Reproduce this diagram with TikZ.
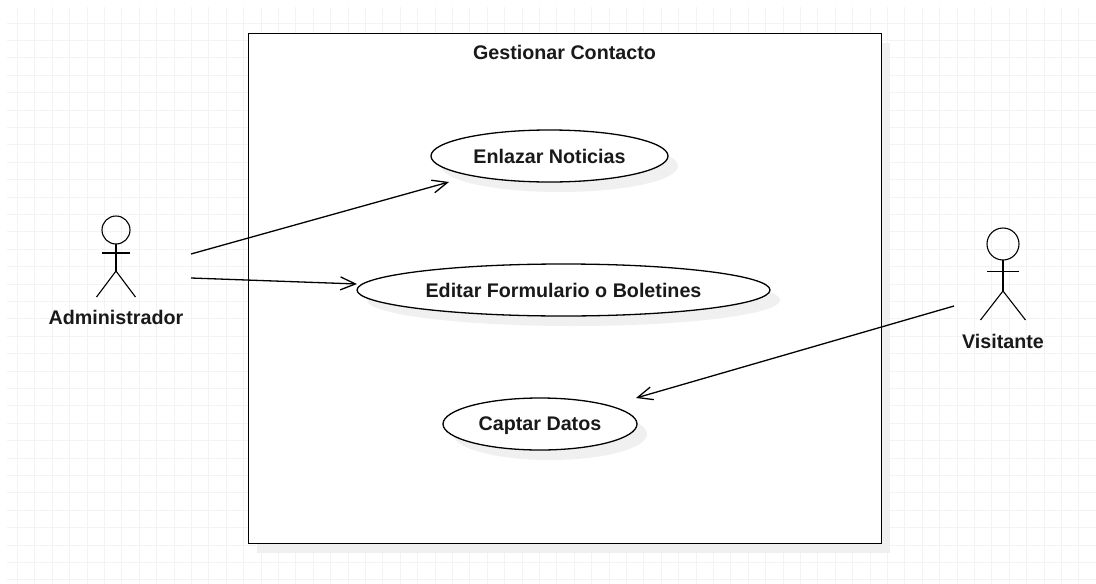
\documentclass[tikz,border=0pt]{standalone}
\usepackage{fontspec}
\setmainfont{Liberation Sans}
\usetikzlibrary{arrows.meta,shadows,shapes.geometric,positioning}

\definecolor{gridline}{HTML}{F3F3F3}
\definecolor{shadowgray}{HTML}{F0F0F0}

\tikzset{
  actor/.pic={
    \draw (0,#1*2) -- (0,\actorhip);
    \draw (-\actorarm,\actorarms) -- (\actorarm,\actorarms);
    \draw (-\actorleg,\actorfoot) -- (0,\actorhip) -- (\actorleg,\actorfoot);
    \draw (0,#1) circle [radius=#1];
  }
}

\begin{document}
\begin{tikzpicture}[x=1pt,y=-1pt,->,>={Straight Barb[length=15pt,width=13pt]},
                    line width=1.3pt,node distance=134pt,
                    every node/.style={font=\fontsize{19.7}{24}\selectfont\bfseries,text=black!90}]

  \tikzstyle{usecase}=[ellipse,draw,fill=white,inner sep=0pt,minimum height=52pt,text depth=0pt,
                       general shadow={shadow xshift=10pt,shadow yshift=-10pt,fill=shadowgray,draw=none}]
  \tikzstyle{system}=[rectangle,draw,fill=white,inner sep=0pt,anchor=north west,
                      minimum width=633pt,minimum height=510pt,
                      general shadow={shadow xshift=8pt,shadow yshift=-9pt,fill=shadowgray,draw=none}]

  \useasboundingbox (0,0) rectangle (1096,584);

  % background grid
  \foreach \i in {0,...,61}
    \draw[-,gridline,line width=1pt] (17.5+\i*17.4,7) -- (17.5+\i*17.4,584);
  \foreach \i in {0,...,32}
    \draw[-,gridline,line width=1pt] (7,23+\i*17.4) -- (1096,23+\i*17.4);

  \node[system] (SYS) at (248,33) {};
  \node[inner sep=0pt] (TTL) at (564.5,52) {Gestionar Contacto};

  \node[usecase,minimum width=413pt] (EDT) at (563.5,290) {Editar Formulario o Boletines};
  \node[usecase,minimum width=237pt] (ENL) [above of=EDT,xshift=-14pt] {Enlazar Noticias};
  \node[usecase,minimum width=194pt] (CAP) [below of=EDT,xshift=-23.5pt] {Captar Datos};

  % actors
  \def\actorarm{14} \def\actorarms{37} \def\actorhip{55} \def\actorleg{19.5} \def\actorfoot{81}
  \pic[-,line width=1.1pt] at (116,216) {actor=14};
  \def\actorarm{16} \def\actorarms{43.5} \def\actorhip{63} \def\actorleg{22.5} \def\actorfoot{92}
  \pic[-,line width=1.1pt] at (1003,228) {actor=16};

  \node[inner sep=0pt] (ADM) at (116,317) {Administrador};
  \node[inner sep=0pt] (VIS) at (1003,341) {Visitante};

  \coordinate (ADMa) at (191,254);
  \coordinate (ADMb) at (191,278);
  \coordinate (VISa) at (954,306);
  \coordinate (ENLin) at (449,182);
  \coordinate (EDTin) at (357,284);
  \coordinate (CAPin) at (636,398);

  \path
  (ADMa) edge [draw] (ENLin)
  (ADMb) edge [draw] (EDTin)
  (VISa) edge [draw] (CAPin)
  ;
\end{tikzpicture}
\end{document}
